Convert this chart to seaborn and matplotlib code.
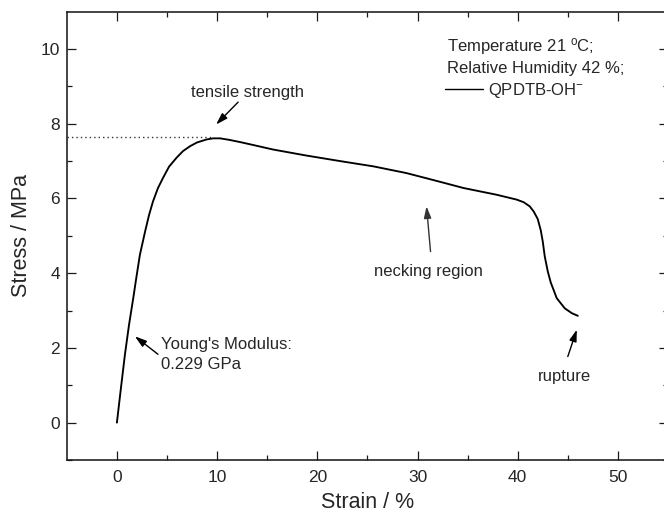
import matplotlib
matplotlib.use("Agg")
import matplotlib.pyplot as plt
import seaborn as sns
import numpy as np
import pandas as pd

# ---- data ----
strain = [0.0, 0.4, 0.8, 1.2, 1.63, 1.95, 2.3, 2.8, 3.2, 3.6, 4.1, 4.6, 5.2, 5.95, 6.6,
          7.3, 8.0, 8.95, 9.6, 10.3, 11.2, 12.3, 13.3, 15.6, 18.9, 22.3, 25.6, 28.9,
          31.2, 32.2, 34.6, 37.9, 39.9, 40.6, 41.2, 41.6, 42.0, 42.3, 42.5, 42.7,
          43.0, 43.3, 43.9, 44.7, 45.4, 46.0]
stress = [0.0, 0.92, 1.82, 2.6, 3.33, 3.9, 4.5, 5.1, 5.55, 5.92, 6.28, 6.55, 6.85, 7.09,
          7.27, 7.4, 7.5, 7.58, 7.61, 7.61, 7.57, 7.51, 7.45, 7.31, 7.15, 7.0, 6.86,
          6.68, 6.52, 6.45, 6.28, 6.1, 5.97, 5.9, 5.79, 5.65, 5.45, 5.15, 4.85, 4.45,
          4.05, 3.75, 3.33, 3.06, 2.93, 2.86]
tensile_strength = 7.64
tensile_strain = 9.45
series_label = "QPDTB-OH$^{-}$"
conditions = ["Temperature 21 $^{\\mathrm{o}}$C;", "Relative Humidity 42 %;"]
x_ticks = [0, 10, 20, 30, 40, 50]
y_ticks = [0, 2, 4, 6, 8, 10]

df = pd.DataFrame({"Strain": strain, "Stress": stress})

sns.set_style("ticks")
plt.rcParams["font.family"] = ["Liberation Sans", "DejaVu Sans"]
plt.rcParams["mathtext.fontset"] = "custom"
plt.rcParams["mathtext.rm"] = "Liberation Sans"
plt.rcParams["mathtext.it"] = "Liberation Sans:italic"

W, H = 664, 515
fig = plt.figure(figsize=(W / 100, H / 100), dpi=100)
left = 66.8 / W
right = 668 / W
bottom = 1 - 460 / H
top = 1 - 11.7 / H
ax = fig.add_axes([left, bottom, right - left, top - bottom])

sns.lineplot(data=df, x="Strain", y="Stress", sort=False, color="black",
             lw=1.35, ax=ax, label=series_label, estimator=None)

ax.plot([-5, tensile_strain], [tensile_strength, tensile_strength],
        ls=(0, (1, 2.2)), color="#333333", lw=1.0)

ax.set_xlim(-5, 55)
ax.set_ylim(-1, 11)
ax.set_xticks(x_ticks)
ax.set_yticks(y_ticks)
ax.set_xticks([5, 15, 25, 35, 45], minor=True)
ax.set_yticks([-1, 1, 3, 5, 7, 9], minor=True)

for s in ax.spines.values():
    s.set_visible(True)
    s.set_linewidth(1.15)
    s.set_color("#1a1a1a")

ax.tick_params(which="both", direction="in", top=True, right=True,
               width=0.9, color="#1a1a1a", labelsize=12.5)
ax.tick_params(which="major", length=6.5)
ax.tick_params(which="minor", length=3.6)
ax.tick_params(axis="x", which="major", pad=7)
ax.tick_params(axis="y", which="major", pad=5)

ax.set_xlabel("Strain / %", fontsize=15.5, labelpad=5)
ax.set_ylabel("Stress / MPa", fontsize=15.5, labelpad=6)

# annotations
arrow = dict(arrowstyle="-|>,head_length=0.7,head_width=0.22", color="black",
             lw=1.0, shrinkA=0, shrinkB=0)
ax.annotate("", xy=(9.9, 7.98), xytext=(12.1, 8.58), arrowprops=arrow)
ax.text(13.0, 8.83, "tensile strength", fontsize=12, ha="center", va="center")

ax.annotate("", xy=(1.8, 2.31), xytext=(4.1, 1.83), arrowprops=arrow)
ax.text(4.45, 2.1, "Young's Modulus:", fontsize=12, ha="left", va="center")
ax.text(4.45, 1.55, "0.229 GPa", fontsize=12, ha="left", va="center")

ax.annotate("", xy=(30.9, 5.79), xytext=(31.3, 4.58),
            arrowprops=dict(arrow, color="#333333"))
ax.text(31.1, 4.05, "necking region", fontsize=12, ha="center", va="center")

ax.annotate("", xy=(45.9, 2.49), xytext=(45.0, 1.77), arrowprops=arrow)
ax.text(44.7, 1.23, "rupture", fontsize=12, ha="center", va="center")

# condition text + legend
fig.text(446.7 / W, 1 - 46.7 / H, conditions[0], fontsize=12, ha="left", va="center")
fig.text(446.7 / W, 1 - 68.3 / H, conditions[1], fontsize=12, ha="left", va="center")
leg = ax.legend(loc="center left", bbox_to_anchor=(445 / W, 1 - 90.7 / H),
                bbox_transform=fig.transFigure, frameon=False, fontsize=12,
                borderpad=0, borderaxespad=0, handlelength=2.3,
                handletextpad=0.3)
for line in leg.get_lines():
    line.set_linewidth(1.0)

fig.savefig("out.png", dpi=100)
